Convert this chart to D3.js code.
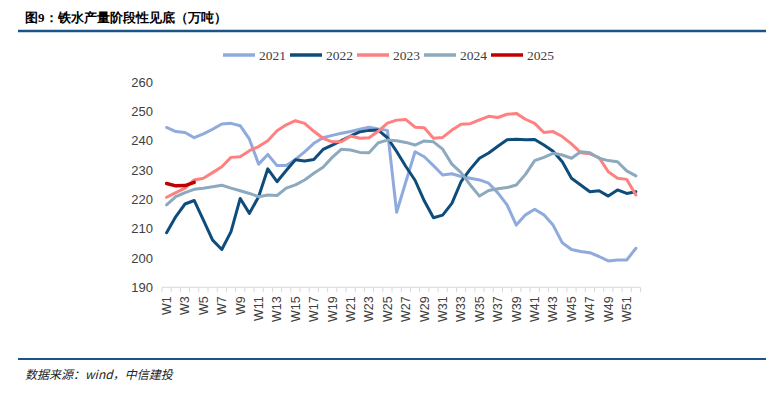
<html>
<head>
<meta charset="utf-8">
<script src='https://d3js.org/d3.v7.min.js'></script>
<style>
body { margin: 0; background: #fff; }
* { font-family: "Liberation Sans", Arial, sans-serif; }
.title { font-family: "Noto Sans CJK SC", sans-serif; font-weight: bold; }
.source { font-family: "Noto Sans CJK SC", serif; font-style: italic; }
.legend text { font-family: "Liberation Serif", "Times New Roman", serif; }
</style>
</head>
<body>
<svg width=773 height=399></svg>
<script>
var weeks = d3.range(1, 53).map(function (i) { return "W" + i; });
var yTicks = [190, 200, 210, 220, 230, 240, 250, 260];
var years = ["2021", "2022", "2023", "2024", "2025"];
var colors = ["#8FAADC", "#0E4D7B", "#FF8080", "#8DA9BE", "#C00000"];

var v2021 = [244.5, 243.1, 242.8, 241, 242.3, 243.9, 245.7, 245.9, 245.1, 240.5,
  232, 235.3, 231.5, 231.5, 233.6, 236.2, 239.1, 241, 241.8, 242.5,
  243.1, 243.9, 244.6, 244, 243.5, 215.6, 226, 236.2, 234.5, 231.5,
  228.3, 228.7, 227.8, 227.2, 226.6, 225.5, 222.2, 218.1, 211.2, 214.7,
  216.6, 214.7, 211.2, 205.2, 202.9, 202.2, 201.8, 200.5, 199, 199.3,
  199.3, 203.3];
var v2022 = [208.6, 214.1, 218.4, 219.6, 212.9, 206.1, 202.9, 209, 220.3, 215.2,
  220.9, 230.4, 226, 229.8, 233.5, 233.1, 233.6, 237, 238.5, 240,
  241.6, 243, 243.5, 243.6, 241, 236.3, 231.2, 226.5, 219.5, 213.7,
  214.6, 218.6, 226, 230.3, 234, 235.8, 238.1, 240.3, 240.5, 240.3,
  240.4, 238.5, 236.4, 232.8, 227.2, 224.9, 222.6, 222.9, 221.1, 223.2,
  222, 222.6];
var v2023 = [220.7, 222.3, 223.8, 226.6, 227.2, 229.1, 231.1, 234.3, 234.5, 236.6,
  238, 240, 243.4, 245.4, 246.8, 245.9, 243.2, 240.8, 239.6, 239.6,
  241.6, 240.8, 241, 243.2, 246, 247, 247.2, 244.6, 244.4, 240.8,
  241.1, 243.6, 245.6, 245.8, 247.1, 248.3, 247.9, 249, 249.3, 247.3,
  245.9, 242.8, 243.1, 241.4, 238.9, 235.9, 235.5, 234.2, 229.4, 227.2,
  226.8, 221.5];
var v2024 = [218.1, 220.9, 222.3, 223.4, 223.8, 224.3, 224.8, 223.8, 222.9, 222,
  220.9, 221.5, 221.3, 223.8, 224.9, 226.6, 228.9, 230.9, 234.3, 237.1,
  236.8, 236, 235.9, 239.3, 240.2, 240, 239.4, 238.5, 239.9, 239.6,
  237.1, 232, 229.1, 224.9, 221.1, 223, 223.6, 224, 224.9, 228.5,
  233.2, 234.3, 235.7, 235.1, 234, 236.2, 235.9, 234, 233.2, 232.8,
  229.7, 228];
var v2025 = [225.4, 224.6, 224.7, 225.8];

var series = [v2021, v2022, v2023, v2024, v2025];

var svg = d3.select("svg");

// header and footer
var title = svg.append("text").attr("class", "title").attr("x", 25).attr("y", 22)
  .style("font-size", "13px").attr("fill", "#000");
title.append("tspan").text("图");
title.append("tspan").style("font-family", "'Liberation Serif', serif").text("9");
title.append("tspan").text("：铁水产量阶段性见底（万吨）");
svg.append("line").attr("x1", 18).attr("x2", 766).attr("y1", 31).attr("y2", 31)
  .attr("stroke", "#1B5488").attr("stroke-width", 2.5);
svg.append("line").attr("x1", 18).attr("x2", 766).attr("y1", 359).attr("y2", 359)
  .attr("stroke", "#1B5488").attr("stroke-width", 2);
svg.append("text").attr("class", "source").attr("x", 25).attr("y", 379)
  .style("font-size", "12px").attr("fill", "#222")
  .text("数据来源：wind，中信建投");

var xScale = d3.scaleBand().domain(weeks).range([162, 640.5]);
var yScale = d3.scaleLinear().domain([190, 260]).range([287.3, 82]);

// y labels
svg.append("g").selectAll("text").data(yTicks).enter().append("text")
  .attr("x", 153)
  .attr("y", function (d) { return yScale(d); })
  .attr("dy", "0.35em")
  .attr("text-anchor", "end")
  .style("font-size", "13px")
  .attr("fill", "#404040")
  .text(function (d) { return d; });

// x axis line and category ticks
var axis = svg.append("g");
axis.append("line").attr("x1", xScale.range()[0]).attr("x2", xScale.range()[1])
  .attr("y1", yScale(190)).attr("y2", yScale(190))
  .attr("stroke", "#D9D9D9").attr("stroke-width", 1);
axis.selectAll("line.tick").data(weeks.concat(["end"])).enter().append("line")
  .attr("class", "tick")
  .attr("x1", function (d) { return d == "end" ? xScale.range()[1] : xScale(d); })
  .attr("x2", function (d) { return d == "end" ? xScale.range()[1] : xScale(d); })
  .attr("y1", yScale(190)).attr("y2", yScale(190) + 5)
  .attr("stroke", "#D9D9D9").attr("stroke-width", 1);

axis.selectAll("text").data(weeks.filter(function (d, i) { return i % 2 == 0; }))
  .enter().append("text")
  .attr("transform", function (d) {
    return "translate(" + (xScale(d) + xScale.bandwidth() / 2) + "," + (yScale(190) + 9) + ") rotate(-90)";
  })
  .attr("dy", "0.35em")
  .attr("text-anchor", "end")
  .style("font-size", "12.5px")
  .attr("fill", "#404040")
  .text(function (d) { return d; });

// lines
var line = d3.line()
  .x(function (d, i) { return xScale(weeks[i]) + xScale.bandwidth() / 2; })
  .y(function (d) { return yScale(d); });

series.forEach(function (s, k) {
  svg.append("path").datum(s)
    .attr("d", line)
    .attr("fill", "none")
    .attr("stroke", colors[k])
    .attr("stroke-width", k == 4 ? 3.5 : 3)
    .attr("stroke-linejoin", "round")
    .attr("stroke-linecap", "round");
});

// legend
var legend = svg.append("g").attr("class", "legend").selectAll("g").data(years).enter().append("g")
  .attr("transform", function (d, i) { return "translate(" + (223 + i * 67) + ",55)"; });
legend.append("line").attr("x1", 0).attr("x2", 32).attr("y1", 0).attr("y2", 0)
  .attr("stroke", function (d, i) { return colors[i]; })
  .attr("stroke-width", 3.5);
legend.append("text").attr("x", 36).attr("dy", "0.35em")
  .style("font-size", "13.5px").attr("fill", "#404040")
  .text(function (d) { return d; });
</script>
</body>
</html>
